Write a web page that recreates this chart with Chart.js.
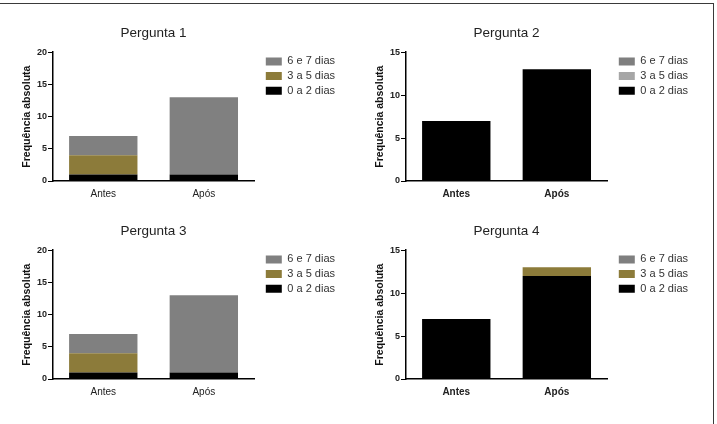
<!DOCTYPE html>
<html>
<head>
<meta charset="utf-8">
<script src="https://cdn.jsdelivr.net/npm/chart.js@4.4.1/dist/chart.umd.min.js"></script>
<style>
    body { margin: 0; background: #fff; width: 717px; height: 424px; position: relative; overflow: hidden; }
    .frame { position: absolute; left: -1px; top: 3px; width: 714px; height: 430px; border-top: 1px solid #3a3a3a; border-right: 1px solid #3a3a3a; }
    canvas { position: absolute; }
    #c1 { left: 0; top: 12px; }
    #c2 { left: 353px; top: 12px; }
    #c3 { left: 0; top: 210px; }
    #c4 { left: 353px; top: 210px; }
</style>
</head>
<body>
<div class="frame"></div>
<canvas id="c1" width="357" height="200"></canvas>
<canvas id="c2" width="357" height="200"></canvas>
<canvas id="c3" width="357" height="200"></canvas>
<canvas id="c4" width="357" height="200"></canvas>

<script>
const categories = ['Antes', 'Após'];
const seriesLabels = ['0 a 2 dias', '3 a 5 dias', '6 e 7 dias'];

// Pergunta 1
const p1Low = [1, 1];
const p1Mid = [3, 0];
const p1High = [3, 12];
// Pergunta 2
const p2Low = [7, 13];
const p2Mid = [0, 0];
const p2High = [0, 0];
// Pergunta 3
const p3Low = [1, 1];
const p3Mid = [3, 0];
const p3High = [3, 12];
// Pergunta 4
const p4Low = [7, 12];
const p4Mid = [0, 1];
const p4High = [0, 0];

const yTicks20 = [0, 5, 10, 15, 20];
const yTicks15 = [0, 5, 10, 15];

const olive = '#8c7b3a';
const colorsA = ['#000000', olive, '#808080'];
const colorsB = ['#000000', '#a6a6a6', '#7f7f7f'];
const colorsC = ['#000000', olive, '#7f7f7f'];

const FONT = "'Liberation Sans', Arial, sans-serif";

function makePanel(id, title, series, ticks, colors, boldX) {
    const datasets = series.map((values, i) => ({
        label: seriesLabels[i],
        data: values,
        backgroundColor: colors[i],
        borderWidth: 0,
        barPercentage: 0.68,
        categoryPercentage: 1
    }));

    return new Chart(document.getElementById(id), {
        type: 'bar',
        data: { labels: categories, datasets },
        options: {
            responsive: false,
            animation: false,
            devicePixelRatio: 1,
            layout: { padding: { left: 0, right: 12, top: 0, bottom: 7 } },
            plugins: {
                tooltip: { enabled: false },
                title: {
                    display: true,
                    text: title,
                    fullSize: false,
                    color: '#222',
                    font: { family: FONT, size: 13.5, weight: 'normal' },
                    padding: { top: 13, bottom: 11 }
                },
                legend: {
                    position: 'right',
                    align: 'start',
                    fullSize: false,
                    reverse: true,
                    maxWidth: 90,
                    labels: {
                        boxWidth: 16,
                        boxHeight: 8,
                        padding: 3.7,
                        color: '#333',
                        font: { family: FONT, size: 11 }
                    }
                }
            },
            scales: {
                x: {
                    stacked: true,
                    grid: { display: false, drawTicks: false },
                    border: { display: true, color: '#000', width: 1.5 },
                    ticks: {
                        color: '#222',
                        padding: 7,
                        font: { family: FONT, size: 10, weight: boldX ? 'bold' : 'normal' }
                    },
                    afterFit: s => { s.height = 24; }
                },
                y: {
                    stacked: true,
                    min: ticks[0],
                    max: ticks[ticks.length - 1],
                    afterBuildTicks: s => { s.ticks = ticks.map(v => ({ value: v })); },
                    grid: { display: true, drawOnChartArea: false, drawTicks: true, tickLength: 5, color: '#000', lineWidth: 1 },
                    border: { display: true, color: '#000', width: 1.5 },
                    ticks: {
                        color: '#222',
                        padding: 1,
                        font: { family: FONT, size: 9, weight: 'bold' }
                    },
                    title: {
                        display: true,
                        text: 'Frequência absoluta',
                        color: '#111',
                        font: { family: FONT, size: 10.5, weight: 'bold' },
                        padding: { top: 21, bottom: 0 }
                    },
                    afterFit: s => { s.width = 53; }
                },
                gap: {
                    type: 'linear',
                    position: 'right',
                    display: true,
                    grid: { display: false, drawTicks: false },
                    border: { display: false },
                    ticks: { display: false },
                    afterFit: s => { s.width = 8; }
                }
            }
        }
    });
}

makePanel('c1', 'Pergunta 1', [p1Low, p1Mid, p1High], yTicks20, colorsA, false);
makePanel('c2', 'Pergunta 2', [p2Low, p2Mid, p2High], yTicks15, colorsB, true);
makePanel('c3', 'Pergunta 3', [p3Low, p3Mid, p3High], yTicks20, colorsA, false);
makePanel('c4', 'Pergunta 4', [p4Low, p4Mid, p4High], yTicks15, colorsC, true);
</script>
</body>
</html>
